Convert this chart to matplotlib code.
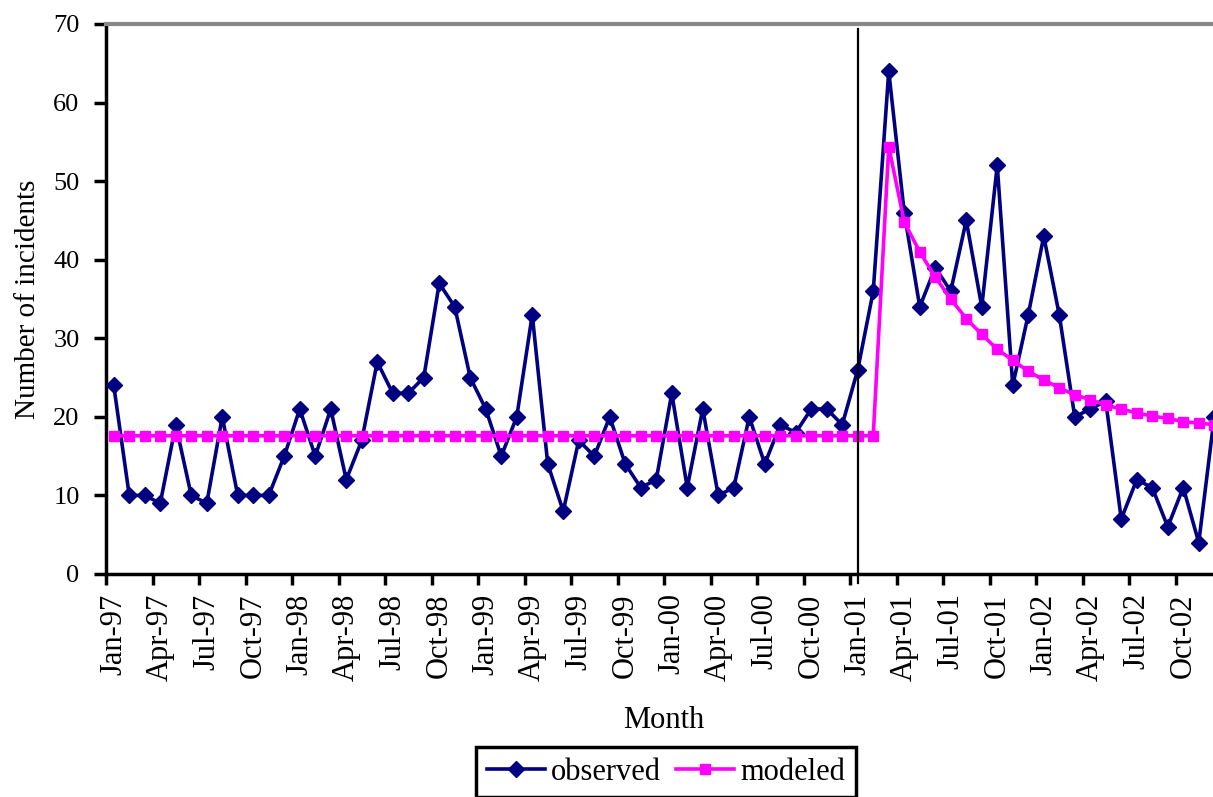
import numpy as np
import matplotlib.pyplot as plt

plt.rcParams['font.family'] = ['Liberation Serif', 'DejaVu Serif']
plt.rcParams['font.size'] = 22

# monthly counts, Jan-97 .. Dec-02
observed = [24, 10, 10, 9, 19, 10, 9, 20, 10, 10, 10, 15,
            21, 15, 21, 12, 17, 27, 23, 23, 25, 37, 34, 25,
            21, 15, 20, 33, 14, 8, 17, 15, 20, 14, 11, 12,
            23, 11, 21, 10, 11, 20, 14, 19, 18, 21, 21, 19,
            26, 36, 64, 46, 34, 39, 36, 45, 34, 52, 24, 33,
            43, 33, 20, 21, 22, 7, 12, 11, 6, 11, 4, 20]

modeled = [17.6] * 50 + [54.4, 44.8, 41.0, 37.8, 35.0, 32.5, 30.5, 28.6, 27.2, 25.8,
                         24.7, 23.7, 22.8, 22.2, 21.5, 21.0, 20.5, 20.1, 19.8, 19.4,
                         19.2, 19.0]

tick_labels = ['Jan-97', 'Apr-97', 'Jul-97', 'Oct-97',
               'Jan-98', 'Apr-98', 'Jul-98', 'Oct-98',
               'Jan-99', 'Apr-99', 'Jul-99', 'Oct-99',
               'Jan-00', 'Apr-00', 'Jul-00', 'Oct-00',
               'Jan-01', 'Apr-01', 'Jul-01', 'Oct-01',
               'Jan-02', 'Apr-02', 'Jul-02', 'Oct-02']

intervention = 48  # Jan-01

x = np.arange(len(observed))

fig = plt.figure(figsize=(12.13, 7.97), dpi=100)
ax = fig.add_axes([106 / 1213, 1 - 574 / 797, 1116 / 1213, 550 / 797])

ax.plot(x, observed, color='#000080', lw=2.6, marker='D', ms=8.5,
        label='observed', zorder=3)
ax.plot(x, modeled, color='#FF00FF', lw=2.6, marker='s', ms=6.5,
        label='modeled', zorder=4)

ax.axvline(intervention, ymin=-1.2 / 70, ymax=69.4 / 70, color='black',
           lw=1.6, clip_on=False, zorder=5)

ax.set_xlim(-0.5, len(observed) - 0.5)
ax.set_ylim(0, 70)
ax.set_yticks(np.arange(0, 71, 10))

ax.set_xticks(x[::3])
ax.set_xticklabels(tick_labels, rotation=90, fontsize=22)
ax.set_xticks(np.arange(-0.5, len(observed), 3), minor=True)
ax.tick_params(axis='x', which='major', length=0, pad=14)
ax.tick_params(axis='x', which='minor', length=8, width=2.5, direction='out')
ax.tick_params(axis='y', length=9, width=2.5, direction='out', pad=10, labelsize=19)

for s in ['left', 'bottom']:
    ax.spines[s].set_linewidth(2.5)
ax.spines['top'].set_color('#888888')
ax.spines['top'].set_linewidth(3)
ax.spines['right'].set_visible(False)

ax.set_xlabel('Month', labelpad=18, fontsize=22)
ax.set_ylabel('Number of incidents', labelpad=9, fontsize=21)

leg = fig.legend(loc='upper center', bbox_to_anchor=(666 / 1213, 1 - 747 / 797),
                 ncol=2, frameon=True, fancybox=False, edgecolor='black',
                 framealpha=1, handlelength=1.9, handletextpad=0.2,
                 columnspacing=0.5, borderpad=0.35, borderaxespad=0, fontsize=22)
leg.get_frame().set_linewidth(2.5)

fig.savefig('out.png', dpi=100)
